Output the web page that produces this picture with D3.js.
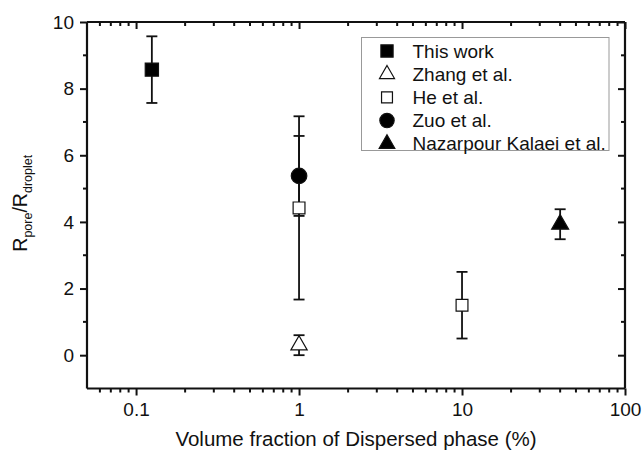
<!DOCTYPE html>
<html lang="en">
<head>
<meta charset="UTF-8">
<title>Rpore/Rdroplet vs volume fraction</title>
<script src="https://cdn.jsdelivr.net/npm/d3@7"></script>
<style>
    body { margin: 0; background: #fff; }
    text { font-family: "Liberation Sans", Arial, sans-serif; fill: #111; }
</style>
</head>
<body>
<div id="chart"></div>
<script>
    // data
    const seriesNames = ["This work", "Zhang et al.", "He et al.", "Zuo et al.", "Nazarpour Kalaei et al."];
    const seriesX = [[0.125], [1], [1, 10], [1], [40]];
    const seriesY = [[8.57], [0.3], [4.42, 1.5], [5.38], [3.93]];
    const seriesErr = [[1.0], [0.3], [2.75, 1.0], [1.2], [0.45]];
    const xTicks = [0.1, 1, 10, 100];
    const yTicks = [0, 2, 4, 6, 8, 10];

    const width = 644, height = 450;
    const margin = {left: 87, right: 19, top: 22, bottom: 61.5};

    const svg = d3.select("#chart").append("svg")
        .attr("width", width)
        .attr("height", height);

    const x = d3.scaleLog().domain([0.05, 100]).range([margin.left, width - margin.right]);
    const y = d3.scaleLinear().domain([-1, 10]).range([height - margin.bottom, margin.top]);

    const xMinor = [];
    [0.01, 0.1, 1, 10].forEach(d => {
        for (let i = 2; i <= 9; i++) {
            const v = d * i;
            if (v > 0.05 && v < 100) xMinor.push(v);
        }
    });
    const yMinor = [1, 3, 5, 7, 9];

    const fmt = d => d < 1 ? String(d) : d3.format("d")(d);
    const tickFont = 19;

    // bottom axis (ticks out)
    const axBottom = svg.append("g").attr("transform", `translate(0,${y(-1)})`);
    axBottom.call(d3.axisBottom(x).tickValues(xTicks).tickFormat(fmt).tickSize(7).tickPadding(7))
        .call(g => g.selectAll("text").attr("font-size", tickFont));
    axBottom.selectAll(".minor").data(xMinor).join("line")
        .attr("x1", d => x(d)).attr("x2", d => x(d))
        .attr("y1", 0).attr("y2", 4).attr("stroke", "#111").attr("stroke-width", 2);

    // left axis (ticks out)
    const axLeft = svg.append("g").attr("transform", `translate(${x(0.05)},0)`);
    axLeft.call(d3.axisLeft(y).tickValues(yTicks).tickSize(7).tickPadding(6))
        .call(g => g.selectAll("text").attr("font-size", tickFont));
    axLeft.selectAll(".minor").data(yMinor).join("line")
        .attr("x1", 0).attr("x2", -4)
        .attr("y1", d => y(d)).attr("y2", d => y(d)).attr("stroke", "#111").attr("stroke-width", 2);

    // top axis (ticks in, no labels)
    const axTop = svg.append("g").attr("transform", `translate(0,${y(10)})`);
    axTop.call(d3.axisTop(x).tickValues(xTicks).tickFormat("").tickSize(-7));
    axTop.selectAll(".minor").data(xMinor).join("line")
        .attr("x1", d => x(d)).attr("x2", d => x(d))
        .attr("y1", 0).attr("y2", 4).attr("stroke", "#111").attr("stroke-width", 2);

    // right axis (ticks in, no labels)
    const axRight = svg.append("g").attr("transform", `translate(${x(100)},0)`);
    axRight.call(d3.axisRight(y).tickValues(yTicks).tickFormat("").tickSize(-7));
    axRight.selectAll(".minor").data(yMinor).join("line")
        .attr("x1", 0).attr("x2", -4)
        .attr("y1", d => y(d)).attr("y2", d => y(d)).attr("stroke", "#111").attr("stroke-width", 2);

    svg.selectAll(".domain").attr("stroke", "#111").attr("stroke-width", 2.2);
    svg.selectAll(".tick line").attr("stroke", "#111").attr("stroke-width", 2);
    axTop.select(".domain").attr("d", `M${x(0.05)},0H${x(100)}`);
    axRight.select(".domain").attr("d", `M0,${y(-1)}V${y(10)}`);
    axBottom.select(".domain").attr("d", `M${x(0.05)},0H${x(100)}`);
    axLeft.select(".domain").attr("d", `M0,${y(-1)}V${y(10)}`);

    // axis titles
    svg.append("text")
        .attr("x", (x(0.05) + x(100)) / 2).attr("y", 446)
        .attr("text-anchor", "middle").attr("font-size", 20.5)
        .text("Volume fraction of Dispersed phase (%)");

    const yl = svg.append("text")
        .attr("transform", `translate(27,${(y(-1) + y(10)) / 2 - 2}) rotate(-90)`)
        .attr("text-anchor", "middle").attr("font-size", 19.5);
    yl.append("tspan").text("R");
    yl.append("tspan").attr("font-size", 12.5).attr("dy", 5).text("pore");
    yl.append("tspan").attr("dy", -5).text("/R");
    yl.append("tspan").attr("font-size", 12.5).attr("dy", 5).text("droplet");

    // marker styles per series
    const symbols = [
        {type: d3.symbolSquare, size: 175, fill: "#000"},
        {type: d3.symbolTriangle, size: 115, fill: "#fff"},
        {type: d3.symbolSquare, size: 140, fill: "#fff"},
        {type: d3.symbolCircle, size: 190, fill: "#000"},
        {type: d3.symbolTriangle, size: 125, fill: "#000"}
    ];

    const points = [];
    seriesNames.forEach((name, i) => {
        seriesX[i].forEach((xv, j) => {
            points.push({s: i, x: xv, y: seriesY[i][j], e: seriesErr[i][j]});
        });
    });

    const plot = svg.append("g");
    const cap = 5.5;
    // error bars first
    const eb = plot.selectAll(".err").data(points).join("g").attr("stroke", "#111").attr("stroke-width", 1.8);
    eb.append("line")
        .attr("x1", d => x(d.x)).attr("x2", d => x(d.x))
        .attr("y1", d => y(d.y + d.e)).attr("y2", d => y(d.y - d.e));
    eb.append("line")
        .attr("x1", d => x(d.x) - cap).attr("x2", d => x(d.x) + cap)
        .attr("y1", d => y(d.y + d.e)).attr("y2", d => y(d.y + d.e));
    eb.append("line")
        .attr("x1", d => x(d.x) - cap).attr("x2", d => x(d.x) + cap)
        .attr("y1", d => y(d.y - d.e)).attr("y2", d => y(d.y - d.e));

    plot.selectAll(".pt").data(points).join("path")
        .attr("transform", d => `translate(${x(d.x)},${y(d.y)})`)
        .attr("d", d => d3.symbol(symbols[d.s].type, symbols[d.s].size)())
        .attr("fill", d => symbols[d.s].fill)
        .attr("stroke", "#111").attr("stroke-width", 1.2);

    // legend
    const leg = svg.append("g");
    leg.append("rect")
        .attr("x", 361.5).attr("y", 37.5).attr("width", 247.5).attr("height", 113)
        .attr("fill", "#fff").attr("stroke", "#999").attr("stroke-width", 1);
    const rows = leg.selectAll(".row").data(seriesNames).join("g")
        .attr("transform", (d, i) => `translate(0,${51 + i * 23.2})`);
    rows.append("path")
        .attr("transform", "translate(387,0)")
        .attr("d", (d, i) => d3.symbol(symbols[i].type, symbols[i].size * 0.85)())
        .attr("fill", (d, i) => symbols[i].fill)
        .attr("stroke", "#111").attr("stroke-width", 1.2);
    rows.append("text")
        .attr("x", 412.5).attr("dy", "0.35em").attr("font-size", 19)
        .text(d => d);
</script>
</body>
</html>
